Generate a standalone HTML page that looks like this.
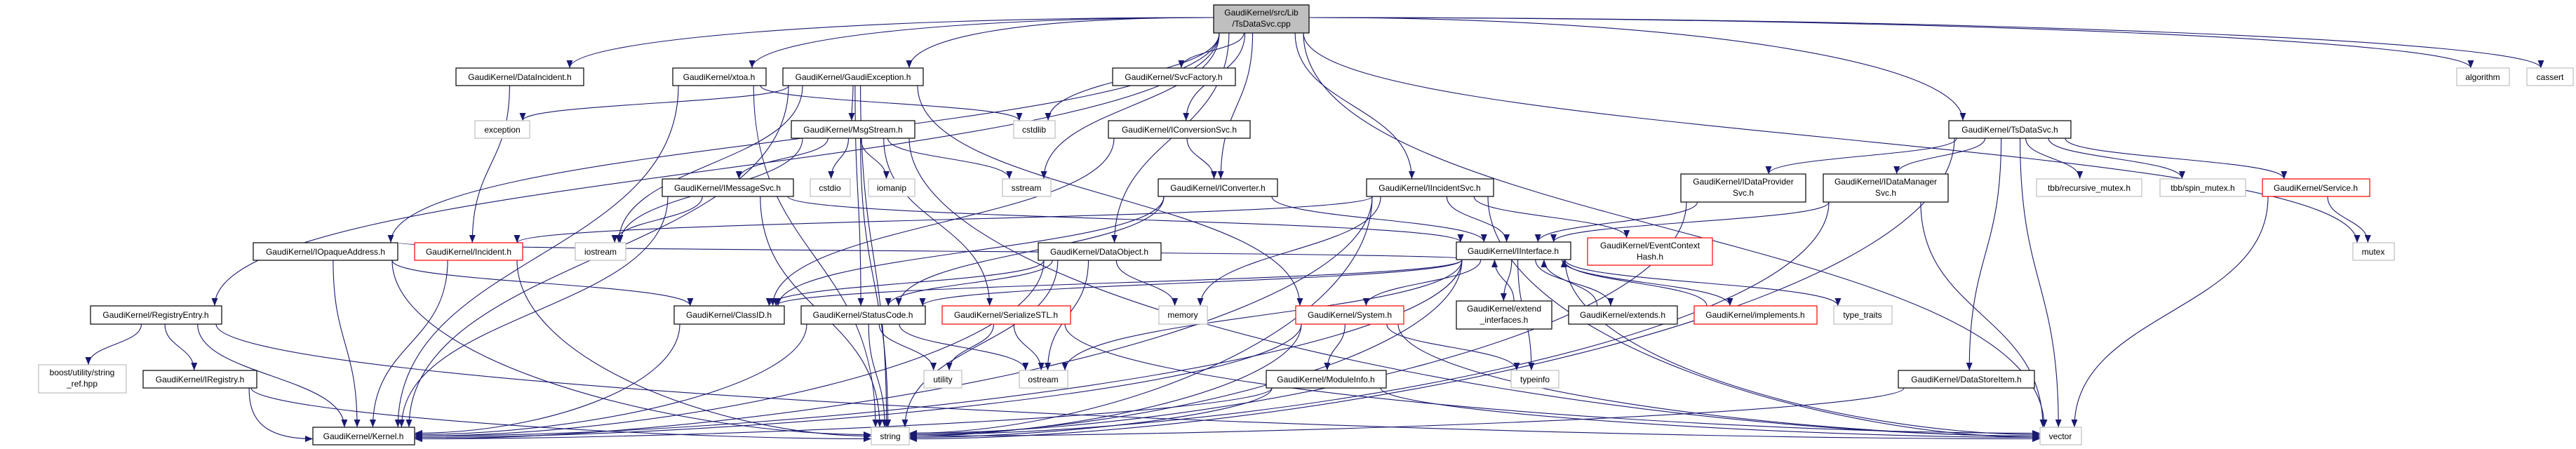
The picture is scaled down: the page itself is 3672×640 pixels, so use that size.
<!DOCTYPE html>
<html><head><meta charset="utf-8"><style>
html,body{margin:0;padding:0;background:#fff;}
svg{display:block;}
text{font-family:"Liberation Sans",Arial,sans-serif;font-size:12px;fill:#000;}
</style></head><body>
<svg id="g" width="3672" height="640" viewBox="0 0 3672 640" xmlns="http://www.w3.org/2000/svg">
<defs><marker id="ah" markerUnits="userSpaceOnUse" markerWidth="12" markerHeight="10" refX="11" refY="4.5" orient="auto"><path d="M0,0 L11,4.5 L0,9 z" fill="#191970"/></marker></defs>
<g id="edges" fill="none" stroke="#191970" stroke-width="1.1"></g>
<g id="nodes" stroke-width="1.2">
<rect x="1730" y="7" width="136" height="40" fill="#bfbfbf" stroke="#000"/><text x="1798" y="22" text-anchor="middle">GaudiKernel/src/Lib</text><text x="1798" y="38" text-anchor="middle">/TsDataSvc.cpp</text>
<rect x="650" y="97" width="182" height="25" fill="#fff" stroke="#000"/><text x="741" y="114" text-anchor="middle">GaudiKernel/DataIncident.h</text>
<rect x="959" y="97" width="133" height="25" fill="#fff" stroke="#000"/><text x="1025" y="114" text-anchor="middle">GaudiKernel/xtoa.h</text>
<rect x="1116" y="97" width="200" height="25" fill="#fff" stroke="#000"/><text x="1216" y="114" text-anchor="middle">GaudiKernel/GaudiException.h</text>
<rect x="1586" y="97" width="175" height="25" fill="#fff" stroke="#000"/><text x="1673" y="114" text-anchor="middle">GaudiKernel/SvcFactory.h</text>
<rect x="3502" y="97" width="75" height="25" fill="#fff" stroke="#bfbfbf"/><text x="3539" y="114" text-anchor="middle">algorithm</text>
<rect x="3602" y="97" width="66" height="25" fill="#fff" stroke="#bfbfbf"/><text x="3635" y="114" text-anchor="middle">cassert</text>
<rect x="677" y="172" width="78" height="25" fill="#fff" stroke="#bfbfbf"/><text x="716" y="189" text-anchor="middle">exception</text>
<rect x="1128" y="172" width="176" height="25" fill="#fff" stroke="#000"/><text x="1216" y="189" text-anchor="middle">GaudiKernel/MsgStream.h</text>
<rect x="1445" y="172" width="59" height="25" fill="#fff" stroke="#bfbfbf"/><text x="1474" y="189" text-anchor="middle">cstdlib</text>
<rect x="1580" y="172" width="202" height="25" fill="#fff" stroke="#000"/><text x="1681" y="189" text-anchor="middle">GaudiKernel/IConversionSvc.h</text>
<rect x="2778" y="172" width="174" height="25" fill="#fff" stroke="#000"/><text x="2865" y="189" text-anchor="middle">GaudiKernel/TsDataSvc.h</text>
<rect x="944" y="255" width="187" height="25" fill="#fff" stroke="#000"/><text x="1037" y="272" text-anchor="middle">GaudiKernel/IMessageSvc.h</text>
<rect x="1155" y="255" width="57" height="25" fill="#fff" stroke="#bfbfbf"/><text x="1183" y="272" text-anchor="middle">cstdio</text>
<rect x="1238" y="255" width="66" height="25" fill="#fff" stroke="#bfbfbf"/><text x="1271" y="272" text-anchor="middle">iomanip</text>
<rect x="1429" y="255" width="69" height="25" fill="#fff" stroke="#bfbfbf"/><text x="1463" y="272" text-anchor="middle">sstream</text>
<rect x="1651" y="255" width="170" height="25" fill="#fff" stroke="#000"/><text x="1736" y="272" text-anchor="middle">GaudiKernel/IConverter.h</text>
<rect x="1948" y="255" width="181" height="25" fill="#fff" stroke="#000"/><text x="2038" y="272" text-anchor="middle">GaudiKernel/IIncidentSvc.h</text>
<rect x="2396" y="248" width="178" height="40" fill="#fff" stroke="#000"/><text x="2485" y="263" text-anchor="middle">GaudiKernel/IDataProvider</text><text x="2485" y="279" text-anchor="middle">Svc.h</text>
<rect x="2599" y="248" width="178" height="40" fill="#fff" stroke="#000"/><text x="2688" y="263" text-anchor="middle">GaudiKernel/IDataManager</text><text x="2688" y="279" text-anchor="middle">Svc.h</text>
<rect x="2903" y="255" width="150" height="25" fill="#fff" stroke="#bfbfbf"/><text x="2978" y="272" text-anchor="middle">tbb/recursive_mutex.h</text>
<rect x="3079" y="255" width="122" height="25" fill="#fff" stroke="#bfbfbf"/><text x="3140" y="272" text-anchor="middle">tbb/spin_mutex.h</text>
<rect x="3225" y="255" width="153" height="25" fill="#fff" stroke="#ff0000"/><text x="3301" y="272" text-anchor="middle">GaudiKernel/Service.h</text>
<rect x="361" y="346" width="206" height="25" fill="#fff" stroke="#000"/><text x="464" y="363" text-anchor="middle">GaudiKernel/IOpaqueAddress.h</text>
<rect x="591" y="346" width="154" height="25" fill="#fff" stroke="#ff0000"/><text x="668" y="363" text-anchor="middle">GaudiKernel/Incident.h</text>
<rect x="820" y="346" width="72" height="25" fill="#fff" stroke="#bfbfbf"/><text x="856" y="363" text-anchor="middle">iostream</text>
<rect x="1480" y="346" width="175" height="25" fill="#fff" stroke="#000"/><text x="1567" y="363" text-anchor="middle">GaudiKernel/DataObject.h</text>
<rect x="2076" y="345" width="163" height="25" fill="#fff" stroke="#000"/><text x="2157" y="362" text-anchor="middle">GaudiKernel/IInterface.h</text>
<rect x="2263" y="339" width="178" height="39" fill="#fff" stroke="#ff0000"/><text x="2352" y="354" text-anchor="middle">GaudiKernel/EventContext</text><text x="2352" y="370" text-anchor="middle">Hash.h</text>
<rect x="3354" y="346" width="59" height="25" fill="#fff" stroke="#bfbfbf"/><text x="3383" y="363" text-anchor="middle">mutex</text>
<rect x="129" y="436" width="187" height="26" fill="#fff" stroke="#000"/><text x="222" y="453" text-anchor="middle">GaudiKernel/RegistryEntry.h</text>
<rect x="961" y="436" width="157" height="26" fill="#fff" stroke="#000"/><text x="1039" y="453" text-anchor="middle">GaudiKernel/ClassID.h</text>
<rect x="1142" y="436" width="177" height="26" fill="#fff" stroke="#000"/><text x="1230" y="453" text-anchor="middle">GaudiKernel/StatusCode.h</text>
<rect x="1343" y="436" width="183" height="26" fill="#fff" stroke="#ff0000"/><text x="1434" y="453" text-anchor="middle">GaudiKernel/SerializeSTL.h</text>
<rect x="1652" y="436" width="69" height="26" fill="#fff" stroke="#bfbfbf"/><text x="1686" y="453" text-anchor="middle">memory</text>
<rect x="1847" y="436" width="154" height="26" fill="#fff" stroke="#ff0000"/><text x="1924" y="453" text-anchor="middle">GaudiKernel/System.h</text>
<rect x="2076" y="429" width="136" height="40" fill="#fff" stroke="#000"/><text x="2144" y="444" text-anchor="middle">GaudiKernel/extend</text><text x="2144" y="460" text-anchor="middle">_interfaces.h</text>
<rect x="2236" y="436" width="155" height="26" fill="#fff" stroke="#000"/><text x="2313" y="453" text-anchor="middle">GaudiKernel/extends.h</text>
<rect x="2415" y="436" width="175" height="26" fill="#fff" stroke="#ff0000"/><text x="2502" y="453" text-anchor="middle">GaudiKernel/implements.h</text>
<rect x="2614" y="436" width="83" height="26" fill="#fff" stroke="#bfbfbf"/><text x="2655" y="453" text-anchor="middle">type_traits</text>
<rect x="55" y="520" width="125" height="40" fill="#fff" stroke="#bfbfbf"/><text x="117" y="535" text-anchor="middle">boost/utility/string</text><text x="117" y="551" text-anchor="middle">_ref.hpp</text>
<rect x="204" y="528" width="162" height="25" fill="#fff" stroke="#000"/><text x="285" y="545" text-anchor="middle">GaudiKernel/IRegistry.h</text>
<rect x="1317" y="528" width="54" height="25" fill="#fff" stroke="#bfbfbf"/><text x="1344" y="545" text-anchor="middle">utility</text>
<rect x="1453" y="528" width="69" height="25" fill="#fff" stroke="#bfbfbf"/><text x="1487" y="545" text-anchor="middle">ostream</text>
<rect x="1805" y="528" width="171" height="25" fill="#fff" stroke="#000"/><text x="1890" y="545" text-anchor="middle">GaudiKernel/ModuleInfo.h</text>
<rect x="2154" y="528" width="68" height="25" fill="#fff" stroke="#bfbfbf"/><text x="2188" y="545" text-anchor="middle">typeinfo</text>
<rect x="2706" y="528" width="194" height="25" fill="#fff" stroke="#000"/><text x="2803" y="545" text-anchor="middle">GaudiKernel/DataStoreItem.h</text>
<rect x="446" y="609" width="145" height="25" fill="#fff" stroke="#000"/><text x="518" y="626" text-anchor="middle">GaudiKernel/Kernel.h</text>
<rect x="1242" y="609" width="54" height="25" fill="#fff" stroke="#bfbfbf"/><text x="1269" y="626" text-anchor="middle">string</text>
<rect x="2908" y="609" width="59" height="25" fill="#fff" stroke="#bfbfbf"/><text x="2937" y="626" text-anchor="middle">vector</text>
</g>
</svg>
<script>
(function(){
var N={R:[1730,1866,7,47],DI:[650,832,97,122],XT:[959,1092,97,122],GE:[1116,1316,97,122],SF:[1586,1761,97,122],
ALG:[3502,3577,97,122],CAS:[3602,3668,97,122],EX:[677,755,172,197],MS:[1128,1304,172,197],CL:[1445,1504,172,197],
ICS:[1580,1782,172,197],TS:[2778,2952,172,197],IMS:[944,1131,255,280],CIO:[1155,1212,255,280],IOM:[1238,1304,255,280],
SS:[1429,1498,255,280],ICV:[1651,1821,255,280],IIS:[1948,2129,255,280],IDP:[2396,2574,248,288],IDM:[2599,2777,248,288],
TRM:[2903,3053,255,280],TSM:[3079,3201,255,280],SV:[3225,3378,255,280],IOA:[361,567,346,371],INC:[591,745,346,371],
IOS:[820,892,346,371],DO:[1480,1655,346,371],II:[2076,2239,345,370],ECH:[2263,2441,339,378],MX:[3354,3413,346,371],
RE:[129,316,436,462],CID:[961,1118,436,462],SC:[1142,1319,436,462],SST:[1343,1526,436,462],MEM:[1652,1721,436,462],
SYS:[1847,2001,436,462],EI:[2076,2212,429,469],EXT:[2236,2391,436,462],IMP:[2415,2590,436,462],TT:[2614,2697,436,462],
BO:[55,180,520,560],IR:[204,366,528,553],UT:[1317,1371,528,553],OS:[1453,1522,528,553],MI:[1805,1976,528,553],
TI:[2154,2222,528,553],DSI:[2706,2900,528,553],K:[446,591,609,634],STR:[1242,1296,609,634],VEC:[2908,2967,609,634]};
var E="R>DI R>XT R>GE R>SF R>CL R>ICS R>ICV R>IIS R>IOA R>RE R>DO R>TS R>ALG R>CAS R>MX R>VEC R>SS "+
"DI>INC XT>CL XT>K XT>STR GE>MS GE>SC GE>K GE>STR GE>EX GE>IOS GE>SYS "+
"MS>IMS MS>CIO MS>IOM MS>SS MS>SST MS>STR MS>VEC MS>IOS IMS>IOS IMS>K IMS>STR IMS>II "+
"ICS>ICV ICS>CID ICV>II ICV>CID ICV>SC IIS>II IIS>INC IIS>ECH IIS>MEM IIS>STR IIS>VEC IIS>K "+
"IOA>K IOA>II IOA>STR IOA>CID INC>K INC>STR DO>CID DO>SC DO>MEM DO>OS DO>STR DO>K "+
"RE>K RE>IR RE>BO RE>VEC IR>K IR>STR CID>K SC>UT SC>OS SC>K SC>STR SST>UT SST>OS SST>VEC "+
"II>EI II>EXT II>IMP II>TT II>SYS II>TI II>K II>SC II>CID II>OS II>STR II>VEC EI>II EXT>II IMP>II "+
"SYS>MI SYS>TI SYS>K SYS>STR SYS>VEC MI>K MI>STR MI>VEC TS>IDP TS>IDM TS>TRM TS>TSM TS>SV TS>DSI TS>VEC TS>STR "+
"IDP>II IDP>STR IDM>II IDM>VEC IDM>STR SV>MX SV>VEC DSI>STR";
var g=document.getElementById('edges'),ns="http://www.w3.org/2000/svg",cnt={};
function cl(v,a,b){return Math.max(a,Math.min(b,v));}
E.split(/\s+/).forEach(function(s){
 var p=s.split('>'),A=N[p[0]],B=N[p[1]];if(!A||!B)return;
 var acx=(A[0]+A[1])/2,bcx=(B[0]+B[1])/2,aw=(A[1]-A[0])/2-8,bw=(B[1]-B[0])/2-8,dx=bcx-acx,d;
 cnt[p[1]]=(cnt[p[1]]||0)+1;var j=(cnt[p[1]]%5-2)*2;
 if(B[2]>=A[3]-2){
  var dy=B[2]-A[3];
  if(p[0]=="R"&&Math.abs(dx)>5*Math.max(dy,10)&&dy<160){
   var sx=dx>0?A[1]:A[0],sy=(A[2]+A[3])/2+j,tx=dx>0?B[0]+Math.min(20,bw):B[1]-Math.min(20,bw),ty=B[2];
   d="M"+sx+","+sy+" C"+(sx+dx*0.5)+","+sy+" "+tx+","+(ty-dy*0.6-10)+" "+tx+","+ty;
  }else if((p[1]=="K"||p[1]=="STR"||p[1]=="VEC")&&Math.abs(dx)>2.2*dy){
   var sx=acx+cl(dx*0.3,-aw,aw),sy=A[3],tx=dx>0?B[0]:B[1],ty=(B[2]+B[3])/2+j;
   d="M"+sx+","+sy+" C"+sx+","+(sy+dy*0.6)+" "+(tx-dx*0.35)+","+ty+" "+tx+","+ty;
  }else{
   var sx=acx+cl(dx*0.2,-aw,aw),sy=A[3],tx=bcx+cl(-dx*0.1,-bw,bw)+j,ty=B[2];
   d="M"+sx+","+sy+" C"+sx+","+(sy+dy/2)+" "+tx+","+(ty-dy/2)+" "+tx+","+ty;
  }
 }else{
  var sx=acx+cl(dx*0.3,-aw,aw)+10,sy=A[2],tx=bcx+cl(-dx*0.15,-bw,bw)+(p[0]=="EI"?-25:20),ty=B[3],dy=sy-ty;
  d="M"+sx+","+sy+" C"+sx+","+(sy-dy/2)+" "+tx+","+(ty+dy/2)+" "+tx+","+ty;
 }
 var e=document.createElementNS(ns,'path');e.setAttribute('d',d);e.setAttribute('marker-end','url(#ah)');g.appendChild(e);
});
})();
</script>
</body></html>
